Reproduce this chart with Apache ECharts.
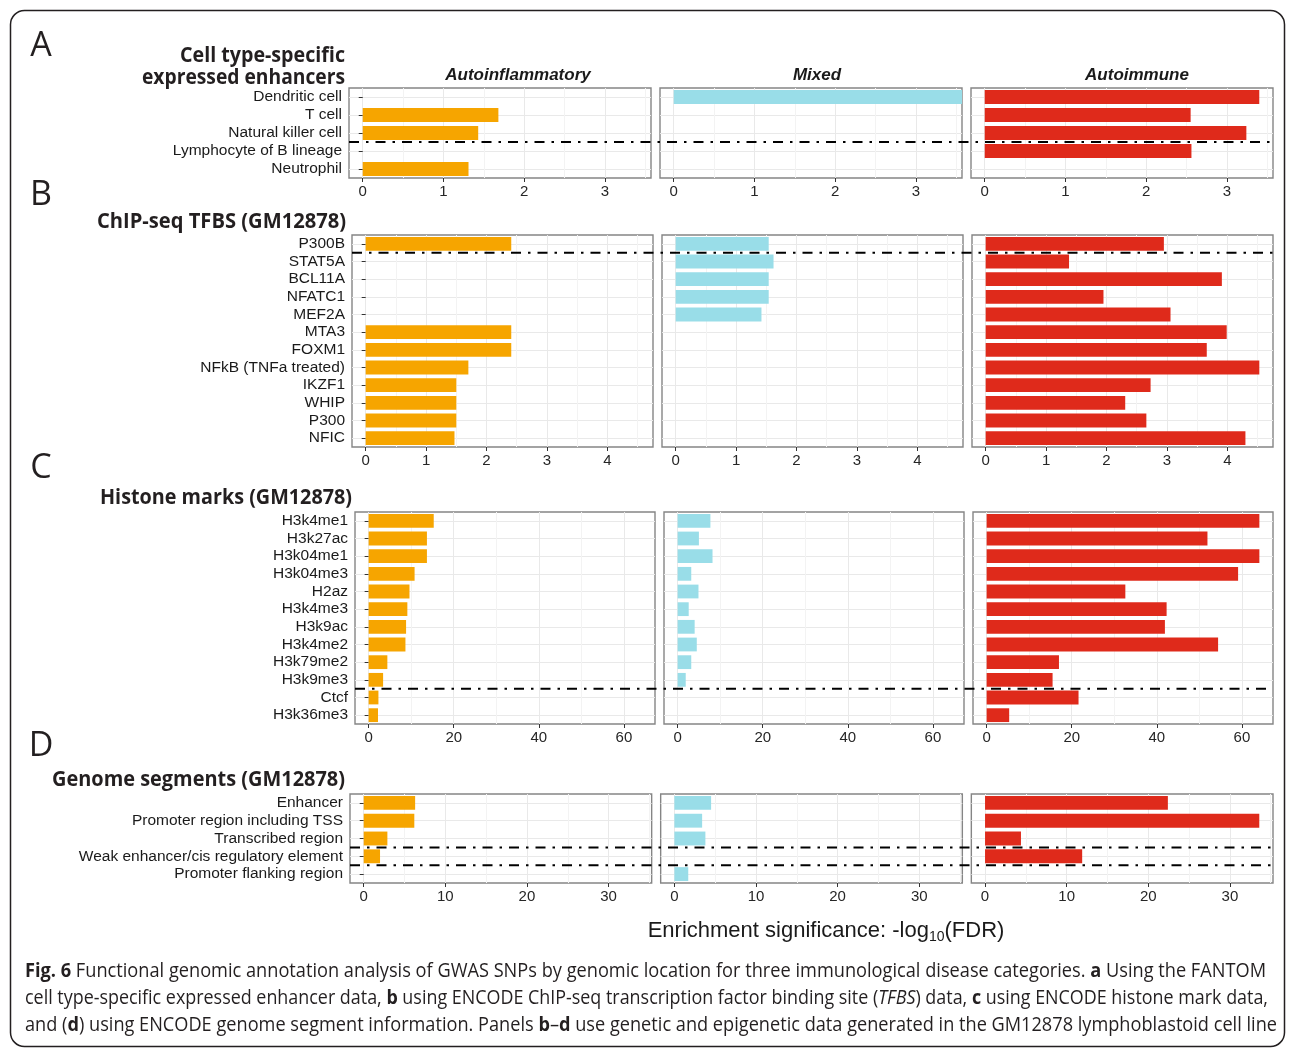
<!DOCTYPE html>
<html>
<head>
<meta charset="utf-8">
<script src="https://cdn.jsdelivr.net/npm/echarts@6/dist/echarts.min.js"></script>
<style>
  html, body { margin: 0; padding: 0; background: #fff; }
  #chart { width: 1295px; height: 1050px; }
</style>
</head>
<body>
<div id="chart"></div>
<script>
// ---------------- data ----------------
const groups = ['Autoinflammatory', 'Mixed', 'Autoimmune'];

// A: FANTOM cell type-specific expressed enhancers
const cellTypes = ['Dendritic cell', 'T cell', 'Natural killer cell', 'Lymphocyte of B lineage', 'Neutrophil'];
const cellAutoinflammatory = [null, 1.68, 1.43, null, 1.31];
const cellMixed = [Infinity, null, null, null, null];   // FDR of 0 -> unbounded bar
const cellAutoimmune = [3.40, 2.55, 3.24, 2.56, null];
const cellTicks = [0, 1, 2, 3];
const cellCuts = ['Lymphocyte of B lineage'];

// B: ChIP-seq transcription factor binding sites
const tfbs = ['P300B', 'STAT5A', 'BCL11A', 'NFATC1', 'MEF2A', 'MTA3', 'FOXM1', 'NFkB (TNFa treated)', 'IKZF1', 'WHIP', 'P300', 'NFIC'];
const tfbsAutoinflammatory = [2.41, null, null, null, null, 2.41, 2.41, 1.70, 1.50, 1.50, 1.50, 1.47];
const tfbsMixed = [1.54, 1.62, 1.54, 1.54, 1.42, null, null, null, null, null, null, null];
const tfbsAutoimmune = [2.95, 1.38, 3.91, 1.95, 3.06, 3.99, 3.66, 4.53, 2.73, 2.31, 2.66, 4.30];
const tfbsTicks = [0, 1, 2, 3, 4];
const tfbsCuts = ['STAT5A'];

// C: histone marks
const histone = ['H3k4me1', 'H3k27ac', 'H3k04me1', 'H3k04me3', 'H2az', 'H3k4me3', 'H3k9ac', 'H3k4me2', 'H3k79me2', 'H3k9me3', 'Ctcf', 'H3k36me3'];
const histoneAutoinflammatory = [15.3, 13.7, 13.7, 10.8, 9.6, 9.1, 8.8, 8.65, 4.4, 3.4, 2.3, 2.2];
const histoneMixed = [7.7, 5.0, 8.2, 3.2, 4.9, 2.6, 4.0, 4.5, 3.2, 1.9, null, null];
const histoneAutoimmune = [64.1, 51.9, 64.1, 59.1, 32.6, 42.3, 41.9, 54.4, 17.0, 15.5, 21.6, 5.3];
const histoneTicks = [0, 20, 40, 60];
const histoneCuts = ['Ctcf'];

// D: genome segments
const segments = ['Enhancer', 'Promoter region including TSS', 'Transcribed region', 'Weak enhancer/cis regulatory element', 'Promoter flanking region'];
const segmentAutoinflammatory = [6.3, 6.2, 2.9, 2.0, null];
const segmentMixed = [4.5, 3.4, 3.8, null, 1.7];
const segmentAutoimmune = [22.4, 33.6, 4.4, 11.9, null];
const segmentTicks = [0, 10, 20, 30];
const segmentCuts = ['Weak enhancer/cis regulatory element', 'Promoter flanking region'];

const sections = [
  { letter: 'A', title: ['Cell type-specific', 'expressed enhancers'], cats: cellTypes,
    values: [cellAutoinflammatory, cellMixed, cellAutoimmune], ticks: cellTicks, cuts: cellCuts },
  { letter: 'B', title: ['ChIP-seq TFBS (GM12878)'], cats: tfbs,
    values: [tfbsAutoinflammatory, tfbsMixed, tfbsAutoimmune], ticks: tfbsTicks, cuts: tfbsCuts },
  { letter: 'C', title: ['Histone marks (GM12878)'], cats: histone,
    values: [histoneAutoinflammatory, histoneMixed, histoneAutoimmune], ticks: histoneTicks, cuts: histoneCuts },
  { letter: 'D', title: ['Genome segments (GM12878)'], cats: segments,
    values: [segmentAutoinflammatory, segmentMixed, segmentAutoimmune], ticks: segmentTicks, cuts: segmentCuts }
];

// ---------------- layout & style ----------------
const COLORS = ['#F6A500', '#99DDE8', '#DF2A1B'];
const SANS = '"Liberation Sans", Arial, sans-serif';
const HUMANIST = '"Open Sans", "Noto Sans", sans-serif';
const INK = '#231f20';
const PANEL_RIGHT = 1273;
const PANEL_GAP = 9;
const frames = [
  { left: 349, top: 88,  height: 90,  titleRight: 345, titleY: [56, 78], titleW: [165, 203], letterY: 46 },
  { left: 352, top: 235, height: 212, titleRight: 346, titleY: [222],    titleW: [249],      letterY: 195 },
  { left: 355, top: 512, height: 212, titleRight: 352, titleY: [498],    titleW: [252],      letterY: 468 },
  { left: 350, top: 794, height: 89,  titleRight: 345, titleY: [780],    titleW: [293],      letterY: 746 }
];
const stripX = [518, 817, 1137];

// text measuring, used to condense headline / caption text to its line width
const measureCtx = document.createElement('canvas').getContext('2d');
function partsWidth(parts, size, family) {
  let w = 0;
  parts.forEach(p => {
    measureCtx.font = (p.i ? 'italic ' : '') + (p.b ? 'bold ' : '') + size + 'px ' + family;
    w += measureCtx.measureText(p.t).width;
  });
  return w;
}

const grids = [], xAxes = [], yAxes = [], series = [], graphics = [];

sections.forEach((sec, si) => {
  const fr = frames[si];
  const w = (PANEL_RIGHT - fr.left - 2 * PANEL_GAP) / 3;
  let finiteMax = 0;
  sec.values.forEach(arr => arr.forEach(v => { if (v != null && isFinite(v)) finiteMax = Math.max(finiteMax, v); }));
  const xMin = -0.05 * finiteMax, xMax = 1.05 * finiteMax;
  const step = sec.ticks[1] - sec.ticks[0];
  const minor = sec.ticks.map(t => t + step / 2).filter(v => v <= xMax);

  sec.values.forEach((vals, j) => {
    const gi = grids.length;
    grids.push({
      left: fr.left + j * (w + PANEL_GAP), top: fr.top, width: w, height: fr.height,
      show: true, backgroundColor: '#fff', borderColor: '#858585', borderWidth: 1.4
    });
    xAxes.push({
      gridIndex: gi, type: 'value', min: xMin, max: xMax,
      axisLine: { show: false },
      axisTick: { show: true, length: 4, customValues: sec.ticks, lineStyle: { color: '#333', width: 1 } },
      axisLabel: { customValues: sec.ticks, fontFamily: SANS, fontSize: 15, color: '#262626', margin: 6 },
      splitLine: { show: true, lineStyle: { color: '#e9e9e9', width: 1 } }
    });
    yAxes.push({
      gridIndex: gi, type: 'category', data: sec.cats, inverse: true,
      axisLine: { show: false },
      axisTick: { show: j === 0, interval: 0, alignWithLabel: true, length: 4, lineStyle: { color: '#333', width: 1 } },
      axisLabel: { show: j === 0, interval: 0, fontFamily: SANS, fontSize: 15.5, color: '#1a1a1a', margin: 7 },
      splitLine: { show: true, interval: 0, alignWithLabel: true, lineStyle: { color: '#e9e9e9', width: 1 } }
    });
    series.push({
      type: 'bar', xAxisIndex: gi, yAxisIndex: gi, name: groups[j],
      data: vals.map(v => v == null ? '-' : (v === Infinity ? xMax : v)),
      barWidth: '78%', clip: true, silent: true, z: 3,
      itemStyle: { color: COLORS[j] },
      markLine: {
        silent: true, symbol: ['none', 'none'], z: 1, animation: false,
        label: { show: false },
        lineStyle: { color: '#f3f3f3', width: 1, type: 'solid' },
        data: minor.map(v => ({ xAxis: v }))
      }
    });
  });

  // dash-dot significance cut, spanning all three panels of the section
  const gi = grids.length;
  grids.push({ left: fr.left, top: fr.top, width: PANEL_RIGHT - fr.left, height: fr.height, show: false });
  xAxes.push({ gridIndex: gi, type: 'value', min: 0, max: 1, show: false });
  yAxes.push({ gridIndex: gi, type: 'value', min: 0, max: sec.cats.length, inverse: true, show: false });
  sec.cuts.forEach(c => {
    const k = sec.cats.indexOf(c);
    series.push({
      type: 'line', xAxisIndex: gi, yAxisIndex: gi, silent: true, z: 10,
      showSymbol: false, symbol: 'none',
      data: [[0, k], [1, k]],
      lineStyle: { color: '#000', width: 2, type: [10, 7, 2.5, 7], cap: 'butt' }
    });
  });

  // panel letter
  graphics.push({
    type: 'text', x: 41, y: fr.letterY,
    style: { text: sec.letter, font: '34px ' + HUMANIST, fill: INK, textAlign: 'center', textVerticalAlign: 'middle' }
  });
  // section headline, condensed to its width
  sec.title.forEach((line, li) => {
    const natural = partsWidth([{ t: line, b: true }], 21, HUMANIST);
    graphics.push({
      type: 'text', x: fr.titleRight, y: fr.titleY[li], scaleX: fr.titleW[li] / natural,
      style: { text: line, font: 'bold 21px ' + HUMANIST, fill: INK, textAlign: 'right', textVerticalAlign: 'middle' }
    });
  });
});

// facet strip titles
groups.forEach((g, j) => {
  graphics.push({
    type: 'text', x: stripX[j], y: 75,
    style: { text: g, font: 'italic bold 17px ' + SANS, fill: '#1a1a1a', textAlign: 'center', textVerticalAlign: 'middle' }
  });
});

// shared x-axis title
graphics.push({
  type: 'text', x: 826, y: 931,
  style: {
    text: '{t|Enrichment significance: -log}{s|10}{t|(FDR)}',
    textAlign: 'center', textVerticalAlign: 'middle',
    rich: {
      t: { fontFamily: SANS, fontSize: 22, fill: '#1a1a1a', color: '#1a1a1a', lineHeight: 26 },
      s: { fontFamily: SANS, fontSize: 14, fill: '#1a1a1a', color: '#1a1a1a', padding: [13, 0, 0, 0] }
    }
  }
});

// figure caption
const captionLines = [
  { w: 1241, parts: [{ t: 'Fig. 6', b: true }, { t: ' Functional genomic annotation analysis of GWAS SNPs by genomic location for three immunological disease categories. ' }, { t: 'a', b: true }, { t: ' Using the FANTOM' }] },
  { w: 1243, parts: [{ t: 'cell type-specific expressed enhancer data, ' }, { t: 'b', b: true }, { t: ' using ENCODE ChIP-seq transcription factor binding site (' }, { t: 'TFBS', i: true }, { t: ') data, ' }, { t: 'c', b: true }, { t: ' using ENCODE histone mark data,' }] },
  { w: 1252, parts: [{ t: 'and (' }, { t: 'd', b: true }, { t: ') using ENCODE genome segment information. Panels ' }, { t: 'b', b: true }, { t: '–' }, { t: 'd', b: true }, { t: ' use genetic and epigenetic data generated in the GM12878 lymphoblastoid cell line' }] }
];
const CAP_SIZE = 20;
captionLines.forEach((line, li) => {
  const text = line.parts.map(p => p.b ? '{b|' + p.t + '}' : p.i ? '{i|' + p.t + '}' : '{r|' + p.t + '}').join('');
  const natural = partsWidth(line.parts, CAP_SIZE, HUMANIST);
  graphics.push({
    type: 'text', x: 25, y: 971 + li * 27, scaleX: line.w / natural,
    style: {
      text, textAlign: 'left', textVerticalAlign: 'middle',
      rich: {
        r: { fontFamily: HUMANIST, fontSize: CAP_SIZE, fill: INK, color: INK },
        b: { fontFamily: HUMANIST, fontSize: CAP_SIZE, fontWeight: 'bold', fill: INK, color: INK },
        i: { fontFamily: HUMANIST, fontSize: CAP_SIZE, fontStyle: 'italic', fill: INK, color: INK }
      }
    }
  });
});

// rounded frame around the figure
graphics.push({
  type: 'rect', z: -10, silent: true,
  shape: { x: 10.5, y: 10.5, width: 1274, height: 1036, r: 14 },
  style: { fill: 'none', stroke: INK, lineWidth: 1.5 }
});

const chart = echarts.init(document.getElementById('chart'), null, { renderer: 'canvas' });
chart.setOption({
  animation: false,
  backgroundColor: '#fff',
  grid: grids,
  xAxis: xAxes,
  yAxis: yAxes,
  series: series,
  graphic: { elements: graphics }
});
</script>
</body>
</html>
